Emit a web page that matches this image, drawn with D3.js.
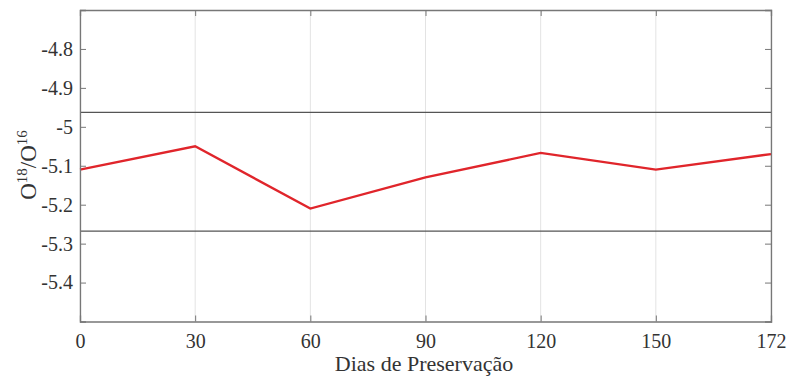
<!DOCTYPE html>
<html><head><meta charset="utf-8">
<script src="https://cdn.jsdelivr.net/npm/d3@7"></script>
<style>
body{margin:0;background:#fff;}
svg{display:block;font-family:"Liberation Serif","Times New Roman",serif;}
</style></head>
<body><svg id="c" width="787" height="376"></svg>
<script>
const days = ["0","30","60","90","120","150","172"];
const ratio = [-5.11, -5.05, -5.21, -5.13, -5.067, -5.11, -5.07];
const yTicks = [-4.8, -4.9, -5, -5.1, -5.2, -5.3, -5.4];
const yDomain = [-5.5, -4.7];
const limits = [-4.963, -5.268];

const svg = d3.select("#c");
const L = 80, R = 771, T = 10, B = 321.5;
const x = d3.scalePoint().domain(days).range([L, R]);
const y = d3.scaleLinear().domain(yDomain).range([B, T]);

// vertical grid
svg.append("g").selectAll("line").data(days).join("line")
  .attr("x1", d => x(d)).attr("x2", d => x(d))
  .attr("y1", T).attr("y2", B)
  .attr("stroke", "#e3e3e3").attr("stroke-width", 1);

// limit lines
svg.append("g").selectAll("line").data(limits).join("line")
  .attr("x1", L).attr("x2", R)
  .attr("y1", d => y(d)).attr("y2", d => y(d))
  .attr("stroke", "#555").attr("stroke-width", 1.2);

// data line
svg.append("path").datum(days.map((d, i) => [d, ratio[i]]))
  .attr("fill", "none").attr("stroke", "#e0252b").attr("stroke-width", 2.4)
  .attr("stroke-linejoin", "miter")
  .attr("d", d3.line().x(d => x(d[0])).y(d => y(d[1])));

// axes
const axL = svg.append("g").attr("transform", `translate(${L},0)`)
  .call(d3.axisLeft(y).tickValues(yTicks).tickSize(-6).tickPadding(7).tickFormat(d => String(d)));
const axR = svg.append("g").attr("transform", `translate(${R},0)`)
  .call(d3.axisRight(y).tickValues(yTicks).tickSize(-6).tickFormat(""));
const axB = svg.append("g").attr("transform", `translate(0,${B})`)
  .call(d3.axisBottom(x).tickSize(-6).tickPadding(12));
const axT = svg.append("g").attr("transform", `translate(0,${T})`)
  .call(d3.axisTop(x).tickSize(-6).tickFormat(""));
[axL, axR, axB, axT].forEach(g => {
  g.attr("font-family", "Liberation Serif");
  g.select(".domain").attr("stroke", "#777").attr("stroke-width", 1.3);
  g.selectAll(".tick line").attr("stroke", "#777").attr("stroke-width", 1);
  g.selectAll("text").attr("font-family", "Liberation Serif").attr("font-size", 20).attr("fill", "#333");
});
axB.selectAll(".tick").filter(d => d === "0" || d === "172").select("line").remove();
axT.selectAll(".tick").filter(d => d === "0" || d === "172").select("line").remove();

// x label
svg.append("text").attr("x", 424).attr("y", 371)
  .attr("text-anchor", "middle").attr("font-size", 22).attr("fill", "#333")
  .text("Dias de Preservação");

// y label
const yl = svg.append("text").attr("transform", "translate(36,165) rotate(-90)")
  .attr("text-anchor", "middle").attr("font-size", 23).attr("fill", "#333");
yl.append("tspan").text("O");
yl.append("tspan").attr("font-size", 15).attr("dy", -9).text("18");
yl.append("tspan").attr("dy", 9).text("/O");
yl.append("tspan").attr("font-size", 15).attr("dy", -9).text("16");
</script></body></html>
